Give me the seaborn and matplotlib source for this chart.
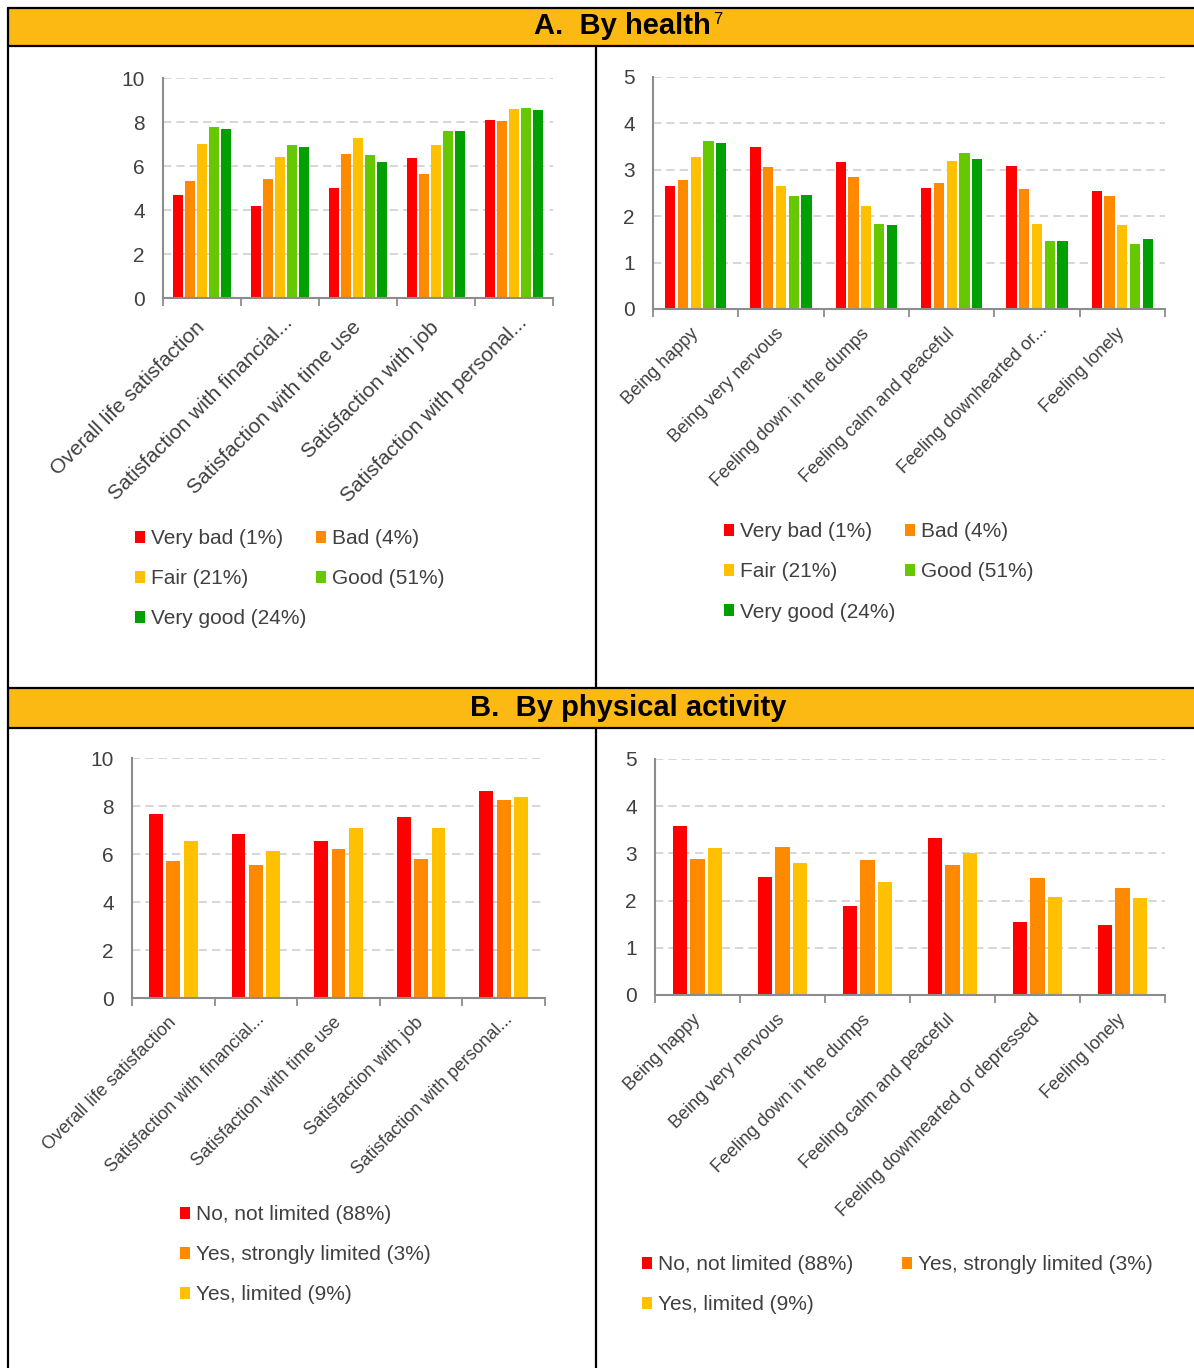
import numpy as np
import pandas as pd
import matplotlib
matplotlib.use("Agg")
import matplotlib.pyplot as plt
import matplotlib.transforms as mtransforms
from matplotlib.patches import Patch, Rectangle
from matplotlib.lines import Line2D
import seaborn as sns

# ---------------- data ----------------
sat_cats = ["Overall life satisfaction", "Satisfaction with financial...",
            "Satisfaction with time use", "Satisfaction with job",
            "Satisfaction with personal..."]
feel_cats_a = ["Being happy", "Being very nervous", "Feeling down in the dumps",
               "Feeling calm and peaceful", "Feeling downhearted or...", "Feeling lonely"]
feel_cats_b = ["Being happy", "Being very nervous", "Feeling down in the dumps",
               "Feeling calm and peaceful", "Feeling downhearted or depressed", "Feeling lonely"]

health_groups = ["Very bad (1%)", "Bad (4%)", "Fair (21%)", "Good (51%)", "Very good (24%)"]
activity_groups = ["No, not limited (88%)", "Yes, strongly limited (3%)", "Yes, limited (9%)"]

# A. by health - satisfaction
very_bad_sat = [4.67, 4.20, 4.98, 6.36, 8.08]
bad_sat = [5.33, 5.42, 6.53, 5.62, 8.06]
fair_sat = [7.02, 6.39, 7.26, 6.94, 8.58]
good_sat = [7.76, 6.94, 6.48, 7.58, 8.62]
very_good_sat = [7.67, 6.88, 6.17, 7.58, 8.53]

# A. by health - feelings
very_bad_feel = [2.66, 3.50, 3.17, 2.61, 3.09, 2.55]
bad_feel = [2.77, 3.05, 2.84, 2.72, 2.59, 2.44]
fair_feel = [3.28, 2.66, 2.22, 3.19, 1.84, 1.81]
good_feel = [3.62, 2.44, 1.83, 3.36, 1.47, 1.41]
very_good_feel = [3.58, 2.46, 1.82, 3.24, 1.47, 1.50]

# B. by physical activity - satisfaction
not_limited_sat = [7.65, 6.85, 6.54, 7.54, 8.63]
strongly_limited_sat = [5.69, 5.54, 6.22, 5.81, 8.25]
limited_sat = [6.56, 6.14, 7.10, 7.10, 8.39]

# B. by physical activity - feelings
not_limited_feel = [3.59, 2.49, 1.89, 3.33, 1.54, 1.49]
strongly_limited_feel = [2.89, 3.14, 2.85, 2.75, 2.47, 2.27]
limited_feel = [3.12, 2.80, 2.39, 3.01, 2.08, 2.06]

health_colors = ["#FF0000", "#FF8A00", "#FFC000", "#66C800", "#00A000"]
activity_colors = ["#FF0000", "#FF8A00", "#FFC000"]

# ---------------- style ----------------
sns.set_theme(style="white")
plt.rcParams["font.family"] = ["Liberation Sans", "DejaVu Sans"]

TEXT = "#404040"
AXIS = "#8C8C8C"
GRID = "#D0D0D0"

W, H = 1194, 1368
fig = plt.figure(figsize=(W / 100, H / 100), dpi=100)


def rect(l, r, t, b):
    return [l / W, 1 - b / H, (r - l) / W, (b - t) / H]


def long_df(cats, groups, series):
    rows = []
    for g, vals in zip(groups, series):
        for c, v in zip(cats, vals):
            rows.append({"cat": c, "group": g, "val": v})
    return pd.DataFrame(rows)


def panel(box, cats, groups, series, colors, ymax, ystep, width, label_fs,
          label_pad, trunc_shift):
    ax = fig.add_axes(rect(*box))
    df = long_df(cats, groups, series)
    sns.barplot(data=df, x="cat", y="val", hue="group", order=cats,
                hue_order=groups, palette=colors, width=width, gap=0.2,
                saturation=1, linewidth=0, legend=False, ax=ax)
    n = len(cats)
    ax.set_xlim(-0.5, n - 0.5)
    ax.set_ylim(0, ymax)
    ax.set_yticks(np.arange(0, ymax + 0.01, ystep))
    ax.set_yticklabels([f"{int(v)}" for v in np.arange(0, ymax + 0.01, ystep)])
    ax.set_xticks(range(n))
    ax.set_xticklabels(cats, rotation=45, ha="right", va="center",
                       rotation_mode="anchor", fontsize=label_fs, color=TEXT)
    ax.set_xticks(np.arange(-0.5, n), minor=True)
    ax.tick_params(axis="x", which="major", length=0, pad=label_pad)
    ax.tick_params(axis="x", which="minor", length=6, width=1.3, color=AXIS,
                   direction="out", bottom=True)
    ax.tick_params(axis="y", length=0, pad=13, labelsize=15, labelcolor=TEXT)
    ax.set_xlabel("")
    ax.set_ylabel("")
    ax.yaxis.grid(True, color=GRID, linewidth=1.2, linestyle=(0, (5, 3)))
    ax.set_axisbelow(True)
    for s in ["top", "right"]:
        ax.spines[s].set_visible(False)
    for s in ["left", "bottom"]:
        ax.spines[s].set_color(AXIS)
        ax.spines[s].set_linewidth(1.5)
    # truncated labels sit slightly further right/up in the reference
    for lab in ax.get_xticklabels():
        if lab.get_text().endswith("..."):
            dx, dy = trunc_shift
            lab.set_transform(lab.get_transform() + mtransforms.ScaledTranslation(
                dx / 100, dy / 100, fig.dpi_scale_trans))
    return ax


def legend(ax, groups, colors, x, y, ncol, colspace):
    handles = [Patch(facecolor=c, edgecolor="none") for c in colors]
    if ncol == 2:
        order = list(range(0, len(groups), 2)) + list(range(1, len(groups), 2))
    else:
        order = list(range(len(groups)))
    ax.legend([handles[i] for i in order], [groups[i] for i in order],
              loc="upper left", bbox_to_anchor=(x / W, 1 - y / H),
              bbox_transform=fig.transFigure, ncol=ncol, frameon=False,
              fontsize=15, labelcolor=TEXT, handlelength=0.5, handleheight=0.5,
              handletextpad=0.25, labelspacing=1.02, columnspacing=colspace,
              borderpad=0, borderaxespad=0)


ax1 = panel((163, 553, 78, 298), sat_cats, health_groups,
            [very_bad_sat, bad_sat, fair_sat, good_sat, very_good_sat],
            health_colors, 10, 2, 0.77, 15, 19, (10, 5))
ax2 = panel((653, 1165, 77, 309), feel_cats_a, health_groups,
            [very_bad_feel, bad_feel, fair_feel, good_feel, very_good_feel],
            health_colors, 5, 1, 0.75, 13, 16, (8, 4))
ax3 = panel((132, 545, 758, 998), sat_cats, activity_groups,
            [not_limited_sat, strongly_limited_sat, limited_sat],
            activity_colors, 10, 2, 0.63, 13, 16, (6, 3))
ax4 = panel((655, 1165, 759, 995), feel_cats_b, activity_groups,
            [not_limited_feel, strongly_limited_feel, limited_feel],
            activity_colors, 5, 1, 0.62, 13, 16, (0, 0))

legend(ax1, health_groups, health_colors, 135, 529, 2, 0.48)
legend(ax2, health_groups, health_colors, 724, 522, 2, 0.48)
legend(ax3, activity_groups, activity_colors, 180, 1205, 1, 0.5)
legend(ax4, activity_groups, activity_colors, 642, 1255, 2, 2.36)

# ---------------- frame & headers ----------------
HEAD = "#FDB913"
for (t, b) in [(8, 46), (688, 728)]:
    fig.add_artist(Rectangle((8 / W, 1 - b / H), (W - 8) / W, (b - t) / H,
                             transform=fig.transFigure, facecolor=HEAD,
                             edgecolor="none", zorder=0))


def fline(x0, y0, x1, y1):
    fig.add_artist(Line2D([x0 / W, x1 / W], [1 - y0 / H, 1 - y1 / H],
                          transform=fig.transFigure, color="black", linewidth=1.6))


fline(8, 8, W, 8)
fline(8, 46, W, 46)
fline(8, 688, W, 688)
fline(8, 728, W, 728)
fline(8, 8, 8, H)
fline(596, 46, 596, 688)
fline(596, 728, 596, H)

fig.text(622 / W, 1 - 26 / H, "A.  By health", ha="center",
         va="center", fontsize=21, fontweight="bold", color="black")
fig.text(713 / W, 1 - 19 / H, "7", ha="left", va="center",
         fontsize=12, fontweight="normal", color="black")
fig.text(628 / W, 1 - 708 / H, "B.  By physical activity", ha="center",
         va="center", fontsize=21, fontweight="bold", color="black")

fig.savefig("out.png", dpi=100)
